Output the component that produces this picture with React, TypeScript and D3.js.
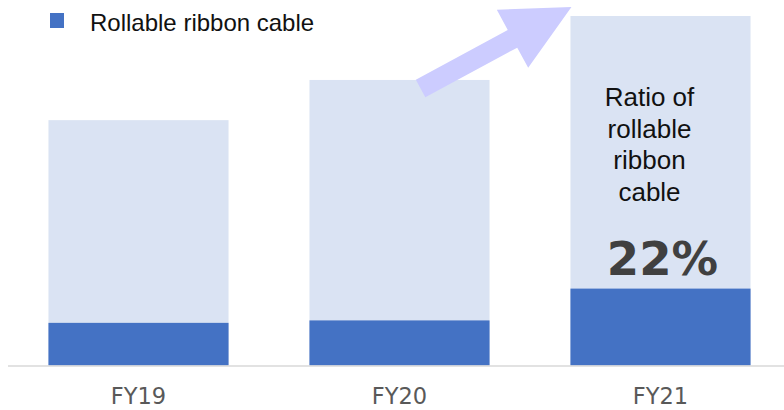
import React from "react";
import * as d3 from "d3";

// Fiscal years and index values (FY21 total = 100)
const categories = ["FY19", "FY20", "FY21"];
const totalValues = [70.2, 81.7, 100];
const ribbonValues = [12.2, 12.9, 22];
const legendLabel = "Rollable ribbon cable";
const ratioLines = ["Ratio of", "rollable", "ribbon", "cable"];

const W = 784;
const H = 410;
const DARK = "#4472C4";
const LIGHT = "#DAE3F3";
const ARROW = "#CCCCFF";

export default function App() {
  const x = d3
    .scaleBand<string>()
    .domain(categories)
    .range([8, 791])
    .paddingInner(0.31)
    .paddingOuter(0.155);
  const y = d3.scaleLinear().domain([0, 100]).range([365.5, 16]);
  const bw = x.bandwidth();

  const last = categories.length - 1;
  const ratio = Math.round((ribbonValues[last] / totalValues[last]) * 100);

  // Growth arrow from the FY20 bar top toward the FY21 bar top
  const tail: [number, number] = [x(categories[1])! + bw * 0.617, y(totalValues[1]) + 8.5];
  const tip: [number, number] = [x(categories[2])! + 1, y(totalValues[2]) - 9];
  const dx = tip[0] - tail[0];
  const dy = tip[1] - tail[1];
  const len = Math.hypot(dx, dy);
  const ux = dx / len;
  const uy = dy / len;
  const nx = -uy;
  const ny = ux;
  const shaftW = 20;
  const headW = 66;
  const headL = 67;
  const bx = tip[0] - ux * headL;
  const by = tip[1] - uy * headL;
  const arrowPts: [number, number][] = [
    [tail[0] + (nx * shaftW) / 2, tail[1] + (ny * shaftW) / 2],
    [bx + (nx * shaftW) / 2, by + (ny * shaftW) / 2],
    [bx + (nx * headW) / 2, by + (ny * headW) / 2],
    tip,
    [bx - (nx * headW) / 2, by - (ny * headW) / 2],
    [bx - (nx * shaftW) / 2, by - (ny * shaftW) / 2],
    [tail[0] - (nx * shaftW) / 2, tail[1] - (ny * shaftW) / 2],
  ];

  const cx21 = x(categories[last])! + bw / 2;

  return (
    <svg
      width={W}
      height={H}
      style={{ position: "fixed", left: 0, top: 0, background: "#fff" }}
    >
      {/* legend */}
      <rect x={50} y={13} width={14} height={15} fill={DARK} />
      <text
        x={90}
        y={30.5}
        fontFamily="'Liberation Sans', Arial, sans-serif"
        fontSize={24}
        fill="#111"
      >
        {legendLabel}
      </text>

      {/* bars */}
      {categories.map((c, i) => (
        <g key={c}>
          <rect
            x={x(c)}
            y={y(totalValues[i])}
            width={bw}
            height={y(0) - y(totalValues[i])}
            fill={LIGHT}
          />
          <rect
            x={x(c)}
            y={y(ribbonValues[i])}
            width={bw}
            height={y(0) - y(ribbonValues[i])}
            fill={DARK}
          />
          <text
            x={x(c)! + bw / 2}
            y={404}
            textAnchor="middle"
            fontFamily="'DejaVu Sans', Verdana, sans-serif"
            fontSize={22.5}
            fill="#595959"
          >
            {c}
          </text>
        </g>
      ))}

      {/* baseline */}
      <line x1={8} x2={W} y1={366} y2={366} stroke="#d9d9d9" strokeWidth={1.5} />

      {/* arrow */}
      <polygon points={arrowPts.map((p) => p.join(",")).join(" ")} fill={ARROW} />

      {/* ratio annotation */}
      {ratioLines.map((t, i) => (
        <text
          key={t}
          x={cx21 - 11}
          y={106 + i * 31.7}
          textAnchor="middle"
          fontFamily="'Liberation Sans', Arial, sans-serif"
          fontSize={26}
          fill="#111"
        >
          {t}
        </text>
      ))}
      <text
        x={cx21 + 2}
        y={275}
        textAnchor="middle"
        fontFamily="'DejaVu Sans', Verdana, sans-serif"
        fontWeight="bold"
        fontSize={46.5}
        fill="#404040"
      >
        {ratio}%
      </text>
    </svg>
  );
}
